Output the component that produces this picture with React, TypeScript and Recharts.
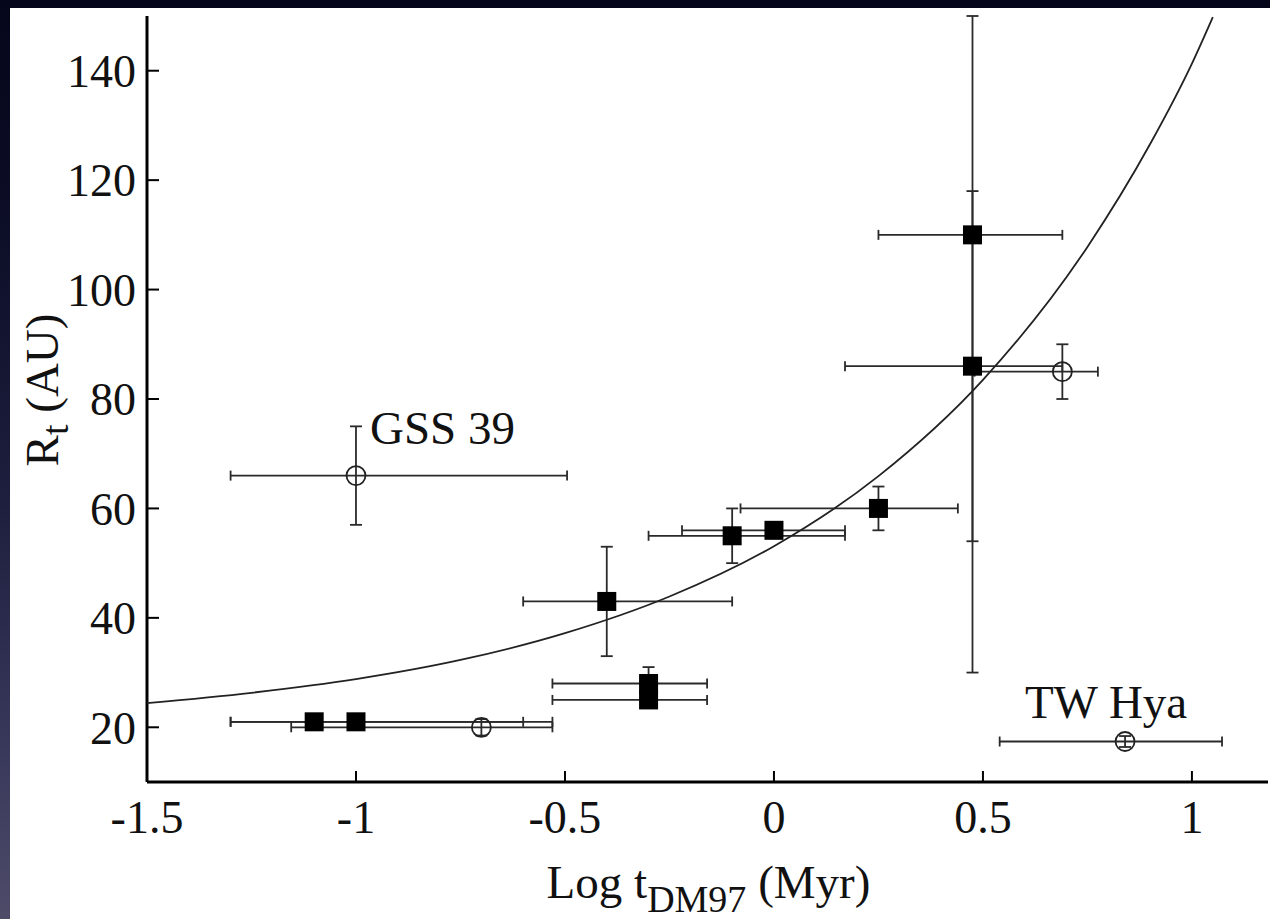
import { ScatterChart, Scatter, XAxis, YAxis, ErrorBar } from "recharts";

const xTicks = [-1.5, -1, -0.5, 0, 0.5, 1];
const rTicks = [20, 40, 60, 80, 100, 120, 140];

// filled squares
const fillX = [-1.1, -1.0, -0.4, -0.3, -0.3, -0.1, 0.0, 0.25, 0.475, 0.475];
const fillR = [21, 21, 43, 28, 25, 55, 56, 60, 110, 86];
const fillXLo = [-1.3, -1.3, -0.6, -0.53, -0.53, -0.3, -0.22, -0.08, 0.25, 0.17];
const fillXHi = [-0.6, -0.53, -0.1, -0.16, -0.16, 0.17, 0.17, 0.44, 0.69, 0.69];
const fillRLo = [21, 21, 33, 28, 25, 50, 56, 56, 30, 54];
const fillRHi = [21, 21, 53, 31, 25, 60, 56, 64, 150, 118];

// open circles
const openName = ["GSS 39", "", "", "TW Hya"];
const openX = [-1.0, -0.7, 0.69, 0.84];
const openR = [66, 20, 85, 17.4];
const openXLo = [-1.3, -1.155, 0.48, 0.54];
const openXHi = [-0.495, -0.53, 0.775, 1.072];
const openRLo = [57, 18.5, 80, 16.4];
const openRHi = [75, 21.5, 90, 18.4];

// fitted curve
const curveX = [-1.5, -1.25, -1.0, -0.75, -0.5, -0.25, 0, 0.25, 0.5, 0.75, 0.9, 1.0, 1.05];
const curveR = [24.4, 26.3, 28.8, 32.3, 37.2, 43.9, 53.1, 65.9, 83.5, 107.8, 126.6, 141.3, 149.8];

const fillRows = fillX.map((x, i) => ({
  x,
  r: fillR[i],
  xErr: [x - fillXLo[i], fillXHi[i] - x],
  rErr: [fillR[i] - fillRLo[i], fillRHi[i] - fillR[i]],
}));
const openRows = openX.map((x, i) => ({
  name: openName[i],
  x,
  r: openR[i],
  xErr: [x - openXLo[i], openXHi[i] - x],
  rErr: [openR[i] - openRLo[i], openRHi[i] - openR[i]],
}));
const curveRows = curveX.map((x, i) => ({ x, r: curveR[i] }));

const FONT = "'Liberation Serif', 'Times New Roman', serif";
const INK = "#111";
const BAR = "#2a2a2a";

function Square(props: any) {
  const { cx, cy } = props;
  return <rect x={cx - 9.5} y={cy - 9.5} width={19} height={19} fill="#000" />;
}

function OpenCircle(props: any) {
  const { cx, cy, payload } = props;
  const name = payload?.name;
  return (
    <g>
      <circle cx={cx} cy={cy} r={9.5} fill="none" stroke="#222" strokeWidth={1.8} />
      {name === "GSS 39" && (
        <text x={cx + 14} y={cy - 32} fontSize={47} fontFamily={FONT} fill={INK}>
          {name}
        </text>
      )}
      {name === "TW Hya" && (
        <text x={cx - 19} y={cy - 24} fontSize={47} fontFamily={FONT} fill={INK} textAnchor="middle">
          {name}
        </text>
      )}
    </g>
  );
}

function XTitle(props: any) {
  const vb = props.viewBox || { x: 147, y: 782, width: 1121, height: 137 };
  const cx = vb.x + vb.width / 2 + 1;
  const y = vb.y + 116;
  return (
    <text x={cx} y={y} textAnchor="middle" fontSize={47} fontFamily={FONT} fill={INK}>
      Log t
      <tspan dy={14} fontSize={38}>DM97</tspan>
      <tspan dy={-14}> (Myr)</tspan>
    </text>
  );
}

function YTitle(props: any) {
  const vb = props.viewBox || { x: 0, y: 16, width: 147, height: 766 };
  const cx = 58;
  const cy = vb.y + vb.height / 2 - 9;
  return (
    <text
      x={cx}
      y={cy}
      transform={`rotate(-90 ${cx} ${cy})`}
      textAnchor="middle"
      fontSize={47}
      fontFamily={FONT}
      fill={INK}
    >
      R
      <tspan dy={10} fontSize={38}>t</tspan>
      <tspan dy={-10}> (AU)</tspan>
    </text>
  );
}

const tickStyle = { fontSize: 46, fill: INK, fontFamily: FONT };
const axisLine = { stroke: "#000", strokeWidth: 3 };
const tickLine = { stroke: "#000", strokeWidth: 2 };

export default function App() {
  return (
    <div
      style={{
        position: "absolute",
        left: 0,
        top: 0,
        width: 1270,
        height: 919,
        overflow: "hidden",
        background: "linear-gradient(to bottom, #05061a 0%, #0d0e27 25%, #1e1f3e 55%, #37375a 80%, #4d4b68 100%)",
      }}
    >
      <div style={{ position: "absolute", left: 10, top: 8, width: 1260, height: 911, background: "#fff" }} />
      <div style={{ position: "absolute", left: 0, top: 0 }}>
        <ScatterChart width={1270} height={919} margin={{ top: 16, right: 2, bottom: 0, left: 0 }}>
          <XAxis
            type="number"
            dataKey="x"
            domain={[-1.5, 1.182]}
            allowDataOverflow
            ticks={xTicks}
            interval={0}
            height={137}
            tickSize={-11}
            tickMargin={29}
            axisLine={axisLine}
            tickLine={tickLine}
            tick={tickStyle}
            label={{ content: (p: any) => <XTitle {...p} /> }}
          />
          <XAxis
            xAxisId="top"
            orientation="top"
            type="number"
            dataKey="x"
            domain={[-1.5, 1.182]}
            allowDataOverflow
            ticks={xTicks}
            interval={0}
            height={0}
            tickSize={-13}
            axisLine={axisLine}
            tickLine={tickLine}
            tick={false}
          />
          <YAxis
            type="number"
            dataKey="r"
            domain={[10, 150]}
            allowDataOverflow
            ticks={rTicks}
            interval={0}
            width={147}
            tickSize={-12}
            tickMargin={23}
            axisLine={axisLine}
            tickLine={tickLine}
            tick={tickStyle}
            label={{ content: (p: any) => <YTitle {...p} /> }}
          />
          <YAxis
            yAxisId="right"
            orientation="right"
            type="number"
            dataKey="r"
            domain={[10, 150]}
            allowDataOverflow
            ticks={rTicks}
            interval={0}
            width={0}
            tickSize={-9}
            axisLine={axisLine}
            tickLine={tickLine}
            tick={false}
          />
          <Scatter
            data={curveRows}
            dataKey="r"
            line={{ stroke: "#222", strokeWidth: 1.8 }}
            lineJointType="monotoneX"
            shape={() => <g />}
            isAnimationActive={false}
          />
          <Scatter data={fillRows} dataKey="r" shape={<Square />} isAnimationActive={false}>
            <ErrorBar dataKey="xErr" direction="x" width={5} stroke={BAR} strokeWidth={1.8} isAnimationActive={false} />
            <ErrorBar dataKey="rErr" direction="y" width={6} stroke={BAR} strokeWidth={1.8} isAnimationActive={false} />
          </Scatter>
          <Scatter data={openRows} dataKey="r" shape={<OpenCircle />} isAnimationActive={false}>
            <ErrorBar dataKey="xErr" direction="x" width={5} stroke={BAR} strokeWidth={1.8} isAnimationActive={false} />
            <ErrorBar dataKey="rErr" direction="y" width={6} stroke={BAR} strokeWidth={1.8} isAnimationActive={false} />
          </Scatter>
        </ScatterChart>
      </div>
    </div>
  );
}
